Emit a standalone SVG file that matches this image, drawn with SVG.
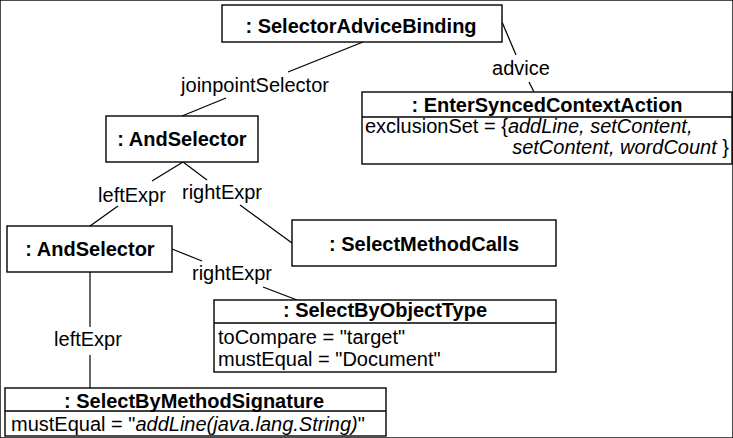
<svg xmlns="http://www.w3.org/2000/svg" width="733" height="438" viewBox="0 0 733 438">
<style>
text{font-family:"Liberation Sans",Arial,Helvetica,sans-serif;font-size:20px;fill:#000}
.t{font-weight:bold;text-anchor:middle}
.l{text-anchor:middle}
.i{font-style:italic}
rect,.d{fill:#fff;stroke:#000;stroke-width:1.4}
.d{fill:none}
#connectors line{stroke:#000;stroke-width:1.2}
</style>
<rect width="733" height="438" fill="#fff" stroke="none"/>
<g id="connectors">
<line x1="363" y1="42" x2="288" y2="72"/>
<line x1="226" y1="98" x2="182" y2="116"/>
<text class="l" x="255" y="92">joinpointSelector</text>
<line x1="502" y1="22" x2="516" y2="55"/>
<line x1="529" y1="82" x2="534" y2="92"/>
<text class="l" x="521" y="75">advice</text>
<line x1="183" y1="162" x2="152" y2="181"/>
<line x1="118" y1="206" x2="90" y2="226"/>
<text class="l" x="132" y="202">leftExpr</text>
<line x1="183" y1="162" x2="207" y2="180"/>
<line x1="240" y1="205" x2="292" y2="243"/>
<text class="l" x="222" y="199">rightExpr</text>
<line x1="172" y1="249" x2="202" y2="261"/>
<line x1="263" y1="287" x2="297" y2="300"/>
<text class="l" x="232" y="280">rightExpr</text>
<line x1="90" y1="272" x2="90" y2="327"/>
<line x1="90" y1="355" x2="90" y2="388"/>
<text class="l" x="88" y="346">leftExpr</text>
</g>
<g id="selectorAdviceBinding">
<rect x="222" y="5" width="280" height="37"/>
<text class="t" x="361" y="33">: SelectorAdviceBinding</text>
</g>
<g id="enterSyncedContextAction">
<rect x="362" y="92" width="370" height="72"/>
<line class="d" x1="362" y1="117" x2="732" y2="117"/>
<text class="t" x="547" y="112">: EnterSyncedContextAction</text>
<text x="365" y="133">exclusionSet = {<tspan class="i">addLine, setContent,</tspan></text>
<text x="729" y="154" text-anchor="end"><tspan class="i">setContent, wordCount</tspan> }</text>
</g>
<g id="andSelector1">
<rect x="106" y="116" width="152" height="46"/>
<text class="t" x="182" y="146">: AndSelector</text>
</g>
<g id="andSelector2">
<rect x="7" y="226" width="165" height="46"/>
<text class="t" x="90" y="256">: AndSelector</text>
</g>
<g id="selectMethodCalls">
<rect x="292" y="220" width="264" height="46"/>
<text class="t" x="424" y="251">: SelectMethodCalls</text>
</g>
<g id="selectByObjectType">
<rect x="214" y="300" width="342" height="72"/>
<line class="d" x1="214" y1="323" x2="556" y2="323"/>
<text class="t" x="385" y="317">: SelectByObjectType</text>
<text x="218" y="344">toCompare = "target"</text>
<text x="218" y="366">mustEqual = "Document"</text>
</g>
<g id="selectByMethodSignature">
<rect x="5" y="388" width="381" height="48"/>
<line class="d" x1="5" y1="411" x2="386" y2="411"/>
<text class="t" x="194" y="408">: SelectByMethodSignature</text>
<text x="11" y="431">mustEqual = "<tspan class="i">addLine(java.lang.String)</tspan>"</text>
</g>
</svg>
